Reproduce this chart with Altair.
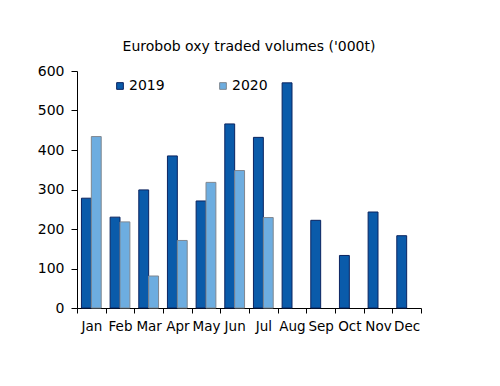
import altair as alt
import pandas as pd

months = ["Jan", "Feb", "Mar", "Apr", "May", "Jun", "Jul", "Aug", "Sep", "Oct", "Nov", "Dec"]
vol_2019 = [278, 230, 299, 385, 271, 466, 432, 570, 222, 133, 243, 183]
vol_2020 = [434, 218, 81, 171, 318, 348, 229]
years = ["2019", "2020"]

rows = []
for m, v in zip(months, vol_2019):
    rows.append({"month": m, "year": "2019", "value": v})
for m, v in zip(months, vol_2020):
    rows.append({"month": m, "year": "2020", "value": v})
df = pd.DataFrame(rows)

FONT = "DejaVu Sans"

chart = alt.Chart(df).mark_bar(strokeWidth=1).encode(
    x=alt.X("month:N", sort=months,
            scale=alt.Scale(paddingInner=0, paddingOuter=0),
            axis=alt.Axis(title=None, labelAngle=0, tickBand="extent", domainColor="black",
                          tickColor="black", tickSize=5, labelPadding=6,
                          labelFontSize=13.5, labelColor="black", labelFont=FONT)),
    xOffset=alt.XOffset("year:N", scale=alt.Scale(domain=years, paddingOuter=0.45, paddingInner=0)),
    y=alt.Y("value:Q", scale=alt.Scale(domain=[0, 600], nice=False),
            axis=alt.Axis(title=None, values=[0, 100, 200, 300, 400, 500, 600], grid=False,
                          domainColor="black", tickColor="black", tickSize=6, labelPadding=7,
                          labelFontSize=14, labelColor="black", labelFont=FONT)),
    color=alt.Color("year:N", scale=alt.Scale(domain=years, range=["#0A5BAA", "#6DADE0"]),
                    legend=alt.Legend(title=None, orient="none", legendX=36, legendY=8,
                                      direction="horizontal", symbolType="square",
                                      symbolSize=45, symbolStrokeWidth=1,
                                      symbolStrokeColor="#1a2a5a", labelOffset=2,
                                      columnPadding=51, labelFontSize=14, labelFont=FONT,
                                      labelColor="black")),
    stroke=alt.Stroke("year:N", scale=alt.Scale(domain=years, range=["#0B2460", "#7F8790"]),
                      legend=None),
).properties(
    width=344, height=237,
    title=alt.TitleParams("Eurobob oxy traded volumes ('000t)", fontSize=14, font=FONT,
                          fontWeight="normal", color="black", offset=10),
    autosize=alt.AutoSizeParams(type="none"),
    padding={"left": 69, "top": 63, "right": 71, "bottom": 70},
).configure_view(stroke=None)

chart.save("out.html", embed_options={"renderer": "svg", "actions": False})
